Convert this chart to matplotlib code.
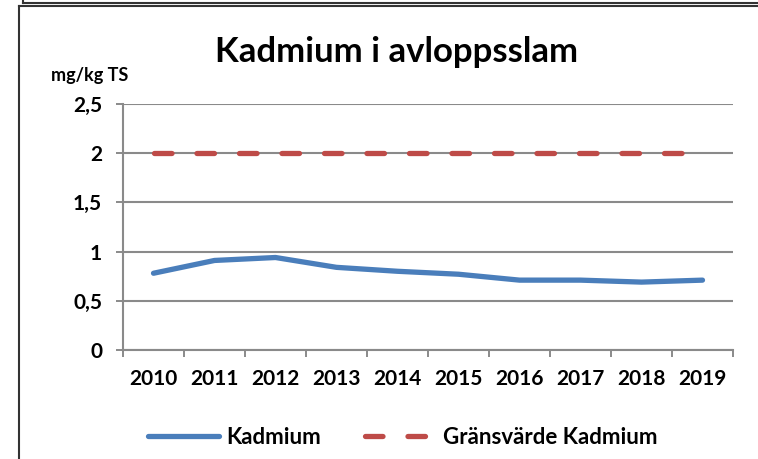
import numpy as np
import matplotlib
matplotlib.use("Agg")
import matplotlib.pyplot as plt
from matplotlib.lines import Line2D

# data
years = ["2010", "2011", "2012", "2013", "2014", "2015", "2016", "2017", "2018", "2019"]
kadmium = [0.78, 0.91, 0.94, 0.84, 0.80, 0.77, 0.71, 0.71, 0.69, 0.71]
gransvarde = [2, 2, 2, 2, 2, 2, 2, 2, 2, 2]
y_ticks = [0, 0.5, 1, 1.5, 2, 2.5]
y_labels = ["0", "0,5", "1", "1,5", "2", "2,5"]

plt.rcParams["font.family"] = ["Lato", "DejaVu Sans"]
plt.rcParams["lines.scale_dashes"] = False

blue = "#4a7ebb"
red = "#be4b48"
grey = "#8a8a8a"

fig = plt.figure(figsize=(7.58, 4.59), dpi=100)
ax = fig.add_axes([123 / 758, 1 - 350 / 459, 610 / 758, 246 / 459])

x = np.arange(len(years))

# Kadmium measurements
ax.plot(x, kadmium, color=blue, lw=3.8, solid_capstyle="round",
        solid_joinstyle="round", label="Kadmium", zorder=3)

# limit value, dashed
ax.plot(x, gransvarde, color=red, lw=3.8, dashes=(12.6, 18.0),
        dash_capstyle="round", label="Gränsvärde Kadmium", zorder=3)

ax.set_xlim(-0.5, len(years) - 0.5)
ax.set_ylim(0, 2.5)

# category boundaries get the tick marks, labels sit in the middle
ax.set_xticks(np.arange(-0.5, len(years), 1.0))
ax.set_xticklabels([])
ax.set_xticks(x, minor=True)
ax.set_xticklabels(years, minor=True, fontsize=15, fontweight="bold")
ax.tick_params(axis="x", which="minor", length=0, pad=14)
ax.tick_params(axis="x", which="major", length=5, width=1.4, color=grey)

ax.set_yticks(y_ticks)
ax.set_yticklabels(y_labels, fontsize=15, fontweight="bold")
ax.tick_params(axis="y", length=5, width=1.4, color=grey, pad=10)

ax.grid(axis="y", color=grey, lw=1.5)
ax.set_axisbelow(True)
for s in ["top", "right"]:
    ax.spines[s].set_visible(False)
for s in ["left", "bottom"]:
    ax.spines[s].set_color(grey)
    ax.spines[s].set_linewidth(1.5)

fig.text(397 / 758, 1 - 52 / 459, "Kadmium i avloppsslam", ha="center", va="center",
         fontsize=25, fontweight="bold")
fig.text(90 / 758, 1 - 75 / 459, "mg/kg TS", ha="center", va="center",
         fontsize=13, fontweight="bold")

fig.legend(loc="center", bbox_to_anchor=(403 / 758, 1 - 437 / 459), ncol=2,
           frameon=False, handlelength=3.2, handletextpad=0.3, columnspacing=2.0,
           prop={"size": 16, "weight": "bold"})

# outer frame lines visible along top and left edge
fig.add_artist(Line2D([19 / 758, 1], [1 - 6 / 459, 1 - 6 / 459], transform=fig.transFigure,
                      color="#333333", lw=1.5))
fig.add_artist(Line2D([19 / 758, 19 / 758], [0, 1 - 6 / 459], transform=fig.transFigure,
                      color="#333333", lw=1.5))
fig.add_artist(Line2D([23 / 758, 1], [1 - 3 / 459, 1 - 3 / 459], transform=fig.transFigure,
                      color="#333333", lw=1.5))
fig.add_artist(Line2D([23 / 758, 23 / 758], [1 - 3 / 459, 1], transform=fig.transFigure,
                      color="#333333", lw=1.5))

fig.savefig("out.png", dpi=100, facecolor="white")
